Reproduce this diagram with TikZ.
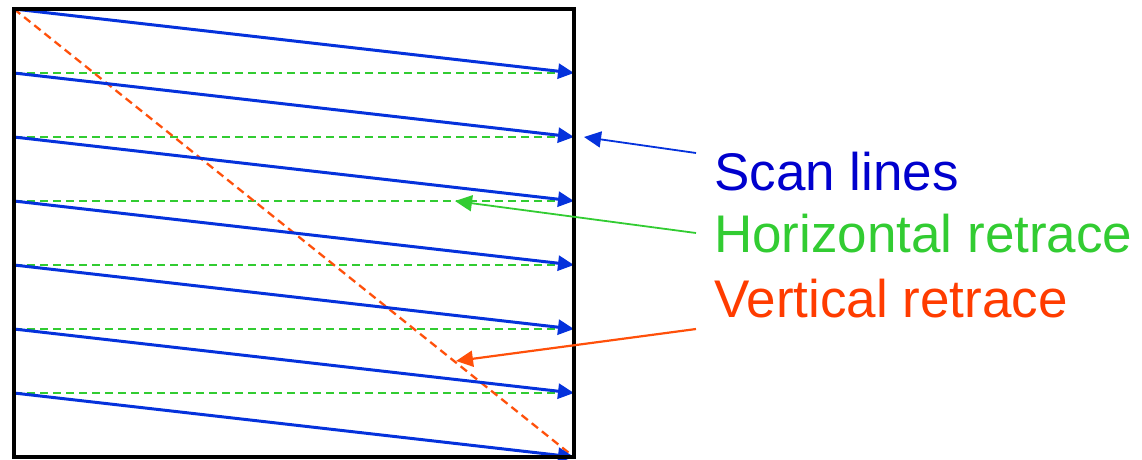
\documentclass[tikz,border=0pt]{standalone}
\usepackage{fontspec}
\setmainfont{Liberation Sans}
\usepackage{xcolor}
\usepackage{tikz}
\usetikzlibrary{arrows.meta}
\definecolor{scanblue}{RGB}{5,50,220}
\definecolor{labblue}{RGB}{0,0,205}
\definecolor{hgreen}{RGB}{50,204,50}
\definecolor{vorange}{RGB}{255,80,10}
\definecolor{vlabel}{RGB}{255,60,0}
\tikzset{
  screen/.style   = {draw=black, line width=4pt},
  scanline/.style = {scanblue, line width=3pt,
                     -{Triangle[length=16pt,width=15pt]}},
  hretrace/.style = {hgreen, line width=2.3pt, dash pattern=on 8pt off 5pt},
  vretrace/.style = {vorange, line width=2.3pt, dash pattern=on 8pt off 5pt},
  pointer/.style  = {line width=2.2pt, -{Triangle[length=17pt,width=16pt]}},
  legend/.style   = {anchor=base west, inner sep=0pt,
                     font=\fontsize{53}{60}\selectfont},
}

\begin{document}
\begin{tikzpicture}[x=1pt, y=-1pt]
  \useasboundingbox (0,0) rectangle (1142,459);

  % left and right edge of the screen, one point per row
  \foreach \k in {0,...,7} {
    \coordinate (L\k) at (14, 9+64*\k);
    \coordinate (R\k) at (574, 9+64*\k);
  }

  % horizontal retrace (under the scan lines)
  \foreach \k in {1,...,6}
    \draw[hretrace] (L\k) -- (R\k);
  % vertical retrace
  \draw[vretrace] (L0) -- (R7);

  % scan lines
  \foreach \k [evaluate=\k as \n using int(\k+1)] in {0,...,6}
    \draw[scanline] (L\k) -- (R\n);

  \draw[screen] (L0) rectangle (R7);

  % legend
  \node[legend, labblue] (scan) at (714,190) {Scan lines};
  \node[legend, hgreen]  (hor)  at (714,252) {Horizontal retrace};
  \node[legend, vlabel]  (ver)  at (714,317) {Vertical retrace};

  \coordinate (scanfrom) at (696,153);
  \coordinate (scanto)   at (584,137);
  \coordinate (horfrom)  at (696,233);
  \coordinate (horto)    at (455,201);
  \coordinate (verfrom)  at (696,329);
  \coordinate (verto)    at (456,361);

  \draw[pointer, scanblue, line width=1.8pt] (scanfrom) -- (scanto);
  \draw[pointer, hgreen, line width=1.8pt]   (horfrom)  -- (horto);
  \draw[pointer, vorange]                    (verfrom)  -- (verto);
\end{tikzpicture}
\end{document}
